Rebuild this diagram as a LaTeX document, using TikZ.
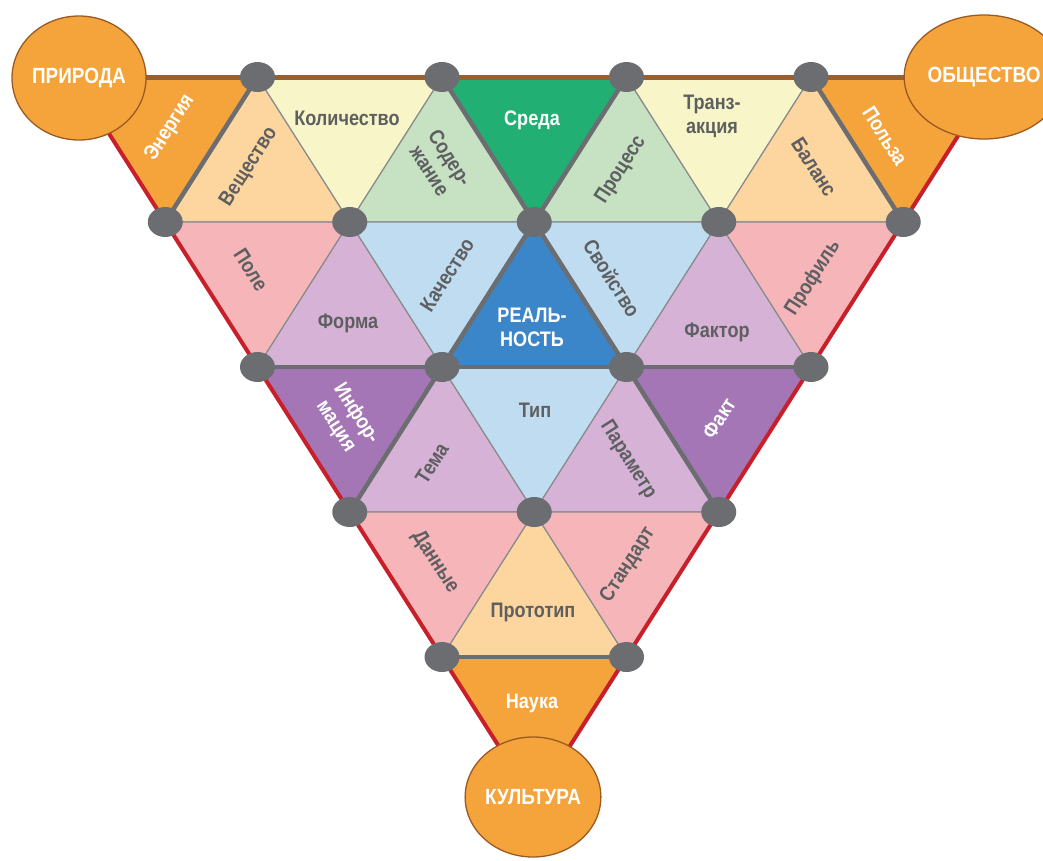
\documentclass[tikz,border=0pt]{standalone}
\usepackage{fontspec}
\setmainfont{Liberation Sans}[FakeStretch=0.86]
\usetikzlibrary{shapes.geometric}
\definecolor{cOr}{HTML}{F5A33B}
\definecolor{cOrB}{HTML}{9A5A22}
\definecolor{cPeach}{HTML}{FDD59E}
\definecolor{cYel}{HTML}{F8F6C8}
\definecolor{cLGreen}{HTML}{C6E2C2}
\definecolor{cGreen}{HTML}{22AF74}
\definecolor{cPink}{HTML}{F6B5B8}
\definecolor{cLav}{HTML}{D6B3D6}
\definecolor{cLBlue}{HTML}{BFDCF0}
\definecolor{cBlue}{HTML}{3B86C9}
\definecolor{cPurp}{HTML}{A476B5}
\definecolor{dotgrey}{HTML}{6B6D70}
\definecolor{gridgrey}{HTML}{8A8B8D}
\definecolor{txtgrey}{HTML}{5E5F61}
\definecolor{edgered}{HTML}{C8202A}
\definecolor{edgebrown}{HTML}{9A5F2E}
\begin{document}
\begin{tikzpicture}[x=1pt,y=-1pt,
  tri/.style={draw=gridgrey, line width=1.2pt, line join=round},
  heavy/.style={draw=dotgrey, line width=4.5pt, line cap=round},
  dot/.style={shape=ellipse, fill=dotgrey, minimum width=35pt, minimum height=30pt, inner sep=0pt},
  lbl/.style={text=txtgrey, font=\fontsize{21}{24}\selectfont\bfseries, align=center, inner sep=0pt},
  wlbl/.style={lbl, text=white},
  circ/.style={shape=ellipse, fill=cOr, draw=cOrB, line width=1.3pt, minimum width=134pt, minimum height=124pt, inner sep=0pt, text=white, font=\fontsize{22}{24}\selectfont\bfseries}]
\useasboundingbox (0,0) rectangle (1043,860);
% vertices
\foreach \r in {0,...,5}{
  \pgfmathtruncatemacro\n{5-\r}
  \foreach \i in {0,...,\n}{
    \coordinate (v\r-\i) at ({73+\r*92.25+\i*184.5},{77+145*\r});
  }
}
% band 0
\path[tri, fill=cOr]     (v0-0) -- (v0-1) -- (v1-0) -- cycle;
\path[tri, fill=cPeach]  (v1-0) -- (v1-1) -- (v0-1) -- cycle;
\path[tri, fill=cYel]    (v0-1) -- (v0-2) -- (v1-1) -- cycle;
\path[tri, fill=cLGreen] (v1-1) -- (v1-2) -- (v0-2) -- cycle;
\path[tri, fill=cGreen]  (v0-2) -- (v0-3) -- (v1-2) -- cycle;
\path[tri, fill=cLGreen] (v1-2) -- (v1-3) -- (v0-3) -- cycle;
\path[tri, fill=cYel]    (v0-3) -- (v0-4) -- (v1-3) -- cycle;
\path[tri, fill=cPeach]  (v1-3) -- (v1-4) -- (v0-4) -- cycle;
\path[tri, fill=cOr]     (v0-4) -- (v0-5) -- (v1-4) -- cycle;
% band 1
\path[tri, fill=cPink]   (v1-0) -- (v1-1) -- (v2-0) -- cycle;
\path[tri, fill=cLav]    (v2-0) -- (v2-1) -- (v1-1) -- cycle;
\path[tri, fill=cLBlue]  (v1-1) -- (v1-2) -- (v2-1) -- cycle;
\path[tri, fill=cBlue]   (v2-1) -- (v2-2) -- (v1-2) -- cycle;
\path[tri, fill=cLBlue]  (v1-2) -- (v1-3) -- (v2-2) -- cycle;
\path[tri, fill=cLav]    (v2-2) -- (v2-3) -- (v1-3) -- cycle;
\path[tri, fill=cPink]   (v1-3) -- (v1-4) -- (v2-3) -- cycle;
% band 2
\path[tri, fill=cPurp]   (v2-0) -- (v2-1) -- (v3-0) -- cycle;
\path[tri, fill=cLav]    (v3-0) -- (v3-1) -- (v2-1) -- cycle;
\path[tri, fill=cLBlue]  (v2-1) -- (v2-2) -- (v3-1) -- cycle;
\path[tri, fill=cLav]    (v3-1) -- (v3-2) -- (v2-2) -- cycle;
\path[tri, fill=cPurp]   (v2-2) -- (v2-3) -- (v3-2) -- cycle;
% band 3
\path[tri, fill=cPink]   (v3-0) -- (v3-1) -- (v4-0) -- cycle;
\path[tri, fill=cPeach]  (v4-0) -- (v4-1) -- (v3-1) -- cycle;
\path[tri, fill=cPink]   (v3-1) -- (v3-2) -- (v4-1) -- cycle;
% band 4
\path[tri, fill=cOr]     (v4-0) -- (v4-1) -- (v5-0) -- cycle;
% heavy grey edges
\draw[heavy] (v0-1) -- (v1-0);
\draw[heavy] (v0-2) -- (v1-2) -- (v0-3);
\draw[heavy] (v0-4) -- (v1-4);
\draw[heavy] (v2-1) -- (v1-2) -- (v2-2);
\draw[heavy] (v2-0) -- (v2-3);
\draw[heavy] (v2-1) -- (v3-0);
\draw[heavy] (v2-2) -- (v3-2);
\draw[heavy] (v4-0) -- (v4-1);
% outer edges
\draw[edgered, line width=4pt] (v0-0) -- (v5-0) -- (v0-5);
\draw[edgebrown, line width=5pt] (v0-0) -- (v0-5);
% circles
\node[circ] (nature) at (79,78) {ПРИРОДА};
\node[circ] (society) at (984,77) {ОБЩЕСТВО};
\node[circ, minimum width=132pt, minimum height=120pt] (culture) at (533,797) {КУЛЬТУРА};
% dots
\foreach \r/\a/\b in {0/1/4,1/0/4,2/0/3,3/0/2,4/0/1}{
  \foreach \i in {\a,...,\b}{
    \node[dot] (d\r-\i) at (v\r-\i) {};
  }
}
% labels band 0
\node[wlbl, rotate=57.5] (tEnergy) at (170,128) {Энергия};
\node[lbl, rotate=57.5] (tSubst) at (249,167) {Вещество};
\node[lbl] (tQuant) at (347,118) {Количество};
\node[lbl, rotate=-57.5] (tCont) at (440,164) {Содер-\\жание};
\node[wlbl] (tEnv) at (532,120) {Среда};
\node[lbl, rotate=57.5] (tProc) at (621,170) {Процесс};
\node[lbl] (tTrans) at (712,116) {Транз-\\акция};
\node[lbl, rotate=-57.5] (tBal) at (814,167) {Баланс};
\node[wlbl, rotate=-57.5] (tBenefit) at (885,136) {Польза};
% band 1
\node[lbl, rotate=-57.5] (tField) at (251,270) {Поле};
\node[lbl] (tForm) at (348,323) {Форма};
\node[lbl, rotate=57.5] (tQual) at (447,275) {Качество};
\node[wlbl] (tReal) at (532,327) {РЕАЛЬ-\\НОСТЬ};
\node[lbl, rotate=-57.5] (tProp) at (612,278) {Свойство};
\node[lbl] (tFactor) at (717,332) {Фактор};
\node[lbl, rotate=57.5] (tProfile) at (813,278) {Профиль};
% band 2
\node[wlbl, rotate=-57.5] (tInfo) at (346,420) {Инфор-\\мация};
\node[lbl, rotate=57.5] (tTheme) at (432,463) {Тема};
\node[lbl] (tType) at (535,410) {Тип};
\node[lbl, rotate=-57.5] (tParam) at (628,460) {Параметр};
\node[wlbl, rotate=57.5] (tFact) at (719,418) {Факт};
% band 3
\node[lbl, rotate=-57.5] (tData) at (435,562) {Данные};
\node[lbl] (tProto) at (533,612) {Прототип};
\node[lbl, rotate=57.5] (tStd) at (628,565) {Стандарт};
% band 4
\node[wlbl] (tSci) at (532,703) {Наука};
\end{tikzpicture}
\end{document}
